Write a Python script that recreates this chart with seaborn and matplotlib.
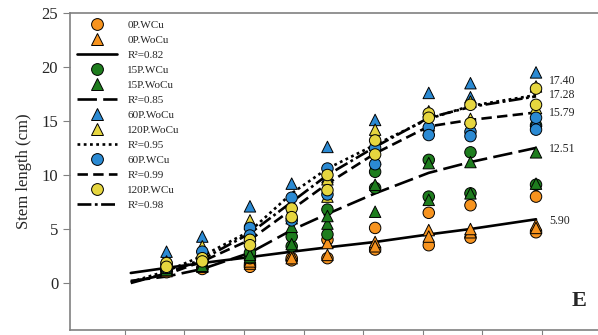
import numpy as np
import pandas as pd
import matplotlib
matplotlib.use("Agg")
import matplotlib.pyplot as plt
from matplotlib.lines import Line2D
import seaborn as sns

# Sampling days (x positions of measurement columns)
days = [7, 13, 21, 28, 34, 42, 51, 58, 69]

# Stem length (cm), two replicates per sampling day
p0_wcu = [(1.2, 1.0), (1.4, 1.3), (1.7, 1.5), (2.1, 2.3), (2.3, 4.0),
          (3.1, 5.1), (3.5, 6.5), (4.2, 7.2), (4.7, 8.0)]
p0_wocu = [(1.3, 1.1), (1.5, 1.6), (1.8, 2.0), (2.6, 2.3), (2.6, 3.7),
           (3.8, 3.4), (4.9, 4.3), (4.7, 5.0), (5.4, 5.1)]
p15_wcu = [(1.3, 1.5), (1.9, 2.0), (2.3, 2.8), (3.4, 4.3), (4.5, 6.8),
           (8.8, 10.3), (8.0, 11.4), (8.3, 12.1), (9.1, 14.6)]
p15_wocu = [(1.2, 1.4), (1.8, 1.6), (2.4, 2.6), (5.2, 3.6), (5.5, 6.2),
            (6.6, 9.1), (7.7, 11.1), (8.3, 11.2), (9.2, 12.1)]
p60_wocu = [(2.9, 1.6), (4.3, 2.6), (7.1, 5.5), (9.2, 6.5), (12.6, 9.8),
            (15.1, 12.8), (17.6, 14.2), (18.5, 17.2), (19.5, 15.0)]
p120_wocu = [(2.0, 1.7), (3.4, 2.5), (5.8, 4.4), (7.4, 6.0), (9.6, 8.0),
             (14.2, 11.5), (15.9, 14.6), (16.8, 15.2), (18.2, 16.2)]
p60_wcu = [(1.8, 1.4), (2.9, 2.2), (5.1, 4.4), (7.9, 5.8), (10.6, 8.2),
           (12.5, 11.0), (14.4, 13.7), (14.0, 13.6), (15.3, 14.2)]
p120_wcu = [(1.85, 1.5), (2.3, 2.0), (4.0, 3.5), (6.9, 6.1), (10.0, 8.6),
            (13.2, 11.9), (15.7, 15.3), (16.5, 14.8), (18.0, 16.5)]

series_names = ["0P.WCu", "0P.WoCu", "15P.WCu", "15P.WoCu",
                "60P.WoCu", "120P.WoCu", "60P.WCu", "120P.WCu"]
series_values = [p0_wcu, p0_wocu, p15_wcu, p15_wocu,
                 p60_wocu, p120_wocu, p60_wcu, p120_wcu]

# Fitted growth curves
fit_days = [1, 7, 13, 21, 28, 34, 42, 51, 58, 69]
fit_0p = [0.93, 1.4, 1.85, 2.4, 2.9, 3.3, 3.8, 4.5, 5.0, 5.90]
fit_15p = [0.2, 0.6, 1.3, 2.8, 4.9, 6.4, 8.3, 10.2, 11.2, 12.51]
fit_wocu = [0.1, 1.1, 2.5, 4.8, 8.3, 10.6, 12.8, 15.2, 16.4, 17.40]
fit_60p = [0.1, 0.8, 2.0, 4.0, 6.8, 9.2, 12.0, 14.5, 15.1, 15.79]
fit_120p = [0.0, 0.9, 2.2, 4.6, 7.5, 10.0, 12.6, 15.3, 16.3, 17.28]
fit_labels = ["R²=0.82", "R²=0.85", "R²=0.95", "R²=0.99", "R²=0.98"]

yticks = [0, 5, 10, 15, 20, 25]
xticks = [0, 10, 20, 30, 40, 50, 60, 70]

colors = {"0P.WCu": "#F7931E", "0P.WoCu": "#F7931E",
          "15P.WCu": "#1E7D1E", "15P.WoCu": "#1E7D1E",
          "60P.WoCu": "#2B8AD3", "120P.WoCu": "#E6D63F",
          "60P.WCu": "#2B8AD3", "120P.WCu": "#E6D63F"}
markers = {n: ("o" if n.endswith("WCu") else "^") for n in series_names}

rows = []
for name, vals in zip(series_names, series_values):
    for d, pair in zip(days, vals):
        for v in pair:
            rows.append({"day": d, "length": v, "treatment": name})
df = pd.DataFrame(rows)

sns.set_style("ticks")
plt.rcParams["font.family"] = ["Liberation Serif", "DejaVu Serif"]
plt.rcParams["lines.scale_dashes"] = False

fig = plt.figure(figsize=(5.98, 3.35), dpi=100)
ax = fig.add_axes([70 / 598, 5 / 335, 528 / 598, 317 / 335])

fit_styles = [
    (fit_0p, "-"),
    (fit_15p, (0, (14, 4.5))),
    (fit_wocu, (0, (2, 2.5))),
    (fit_60p, (0, (7.5, 3.8))),
    (fit_120p, (0, (10, 2.5, 2, 2.5))),
]
for vals, ls in fit_styles:
    sns.lineplot(x=fit_days, y=vals, color="black", lw=1.9,
                 linestyle=ls, ax=ax, zorder=1)

sns.scatterplot(data=df, x="day", y="length", hue="treatment",
                style="treatment", palette=colors, markers=markers,
                s=68, edgecolor="black", linewidth=0.7, legend=False,
                ax=ax, zorder=2)

# Curve end values
end_labels = [(fit_wocu, 14), (fit_120p, 1), (fit_60p, -1),
              (fit_15p, -1), (fit_0p, -2)]
for vals, dy in end_labels:
    ax.annotate(f"{vals[-1]:.2f}", xy=(fit_days[-1], vals[-1]),
                xytext=(13, dy), textcoords="offset pixels",
                ha="left", va="center", fontsize=8.5, color="#222222")

ax.text(0.965, 0.09, "E", transform=ax.transAxes, fontsize=16,
        fontweight="bold", ha="center", va="center")

ax.set_xlim(-9.2, 79.4)
ax.set_ylim(-4.35, 25)
ax.set_yticks(yticks)
ax.set_xticks(xticks)
ax.set_xticklabels([])
ax.set_xlabel("")
ax.set_ylabel("Stem length (cm)", fontsize=12, labelpad=7)
ax.tick_params(axis="y", labelsize=12, length=5, color="#808080",
               direction="out")
ax.tick_params(axis="x", length=5, color="#808080", direction="out")
for side in ["left", "top", "bottom"]:
    ax.spines[side].set_color("#808080")
    ax.spines[side].set_linewidth(1.2)
ax.spines["right"].set_visible(False)

def mk(name):
    return Line2D([], [], ls="none", marker=markers[name], markersize=8.5,
                  markerfacecolor=colors[name], markeredgecolor="black",
                  markeredgewidth=0.7)

def ln(i):
    return Line2D([], [], color="black", lw=1.9, linestyle=fit_styles[i][1])

handles = [mk("0P.WCu"), mk("0P.WoCu"), ln(0),
           mk("15P.WCu"), mk("15P.WoCu"), ln(1),
           mk("60P.WoCu"), mk("120P.WoCu"), ln(2),
           mk("60P.WCu"), ln(3),
           mk("120P.WCu"), ln(4)]
labels = ["0P.WCu", "0P.WoCu", fit_labels[0],
          "15P.WCu", "15P.WoCu", fit_labels[1],
          "60P.WoCu", "120P.WoCu", fit_labels[2],
          "60P.WCu", fit_labels[3],
          "120P.WCu", fit_labels[4]]
ax.legend(handles, labels, loc="upper left", bbox_to_anchor=(0.0, 1.0),
          frameon=False, fontsize=8, handlelength=3.6, handletextpad=0.9,
          labelspacing=0.47, borderpad=0.45, borderaxespad=0.2)

fig.savefig("out.png", dpi=100)
